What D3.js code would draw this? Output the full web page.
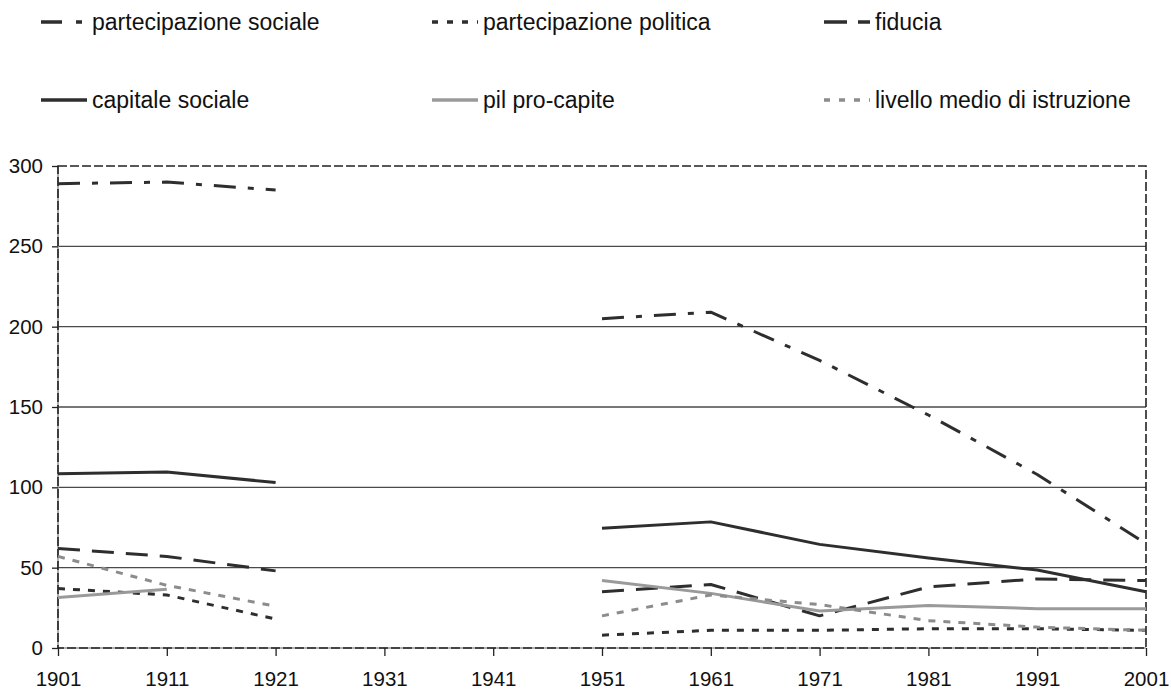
<!DOCTYPE html>
<html><head><meta charset="utf-8">
<script src="https://cdn.jsdelivr.net/npm/d3@7"></script>
<style>body{margin:0;background:#fff}svg{display:block;font-family:"Liberation Sans",Arial,sans-serif}</style>
</head><body>
<svg id="c" width="1171" height="692"></svg>
<script>
const years = ["1901","1911","1921","1931","1941","1951","1961","1971","1981","1991","2001"];
const yTicks = [0,50,100,150,200,250,300];
const partecipazioneSociale = [289,290,285,null,null,205,209,179,145,108,65];
const partecipazionePolitica = [37,33,18,null,null,8,11,11,12,12,11];
const fiducia = [62,57,48,null,null,35,39.5,20,38,43,42];
const capitaleSociale = [108.5,109.5,103,null,null,74.5,78.5,64.5,56,48.5,35];
const pilProCapite = [31.5,36.5,null,null,null,42,34,23,26.5,24.5,24.5];
const livelloIstruzione = [57,39,26,null,null,20,33,27,17,13,11];

const series = [
  {name:"partecipazione sociale", values:partecipazioneSociale, color:"#2e2e2e", dash:"22,12,6,12", legDash:"21,14,6,40"},
  {name:"partecipazione politica", values:partecipazionePolitica, color:"#2e2e2e", dash:"7,8", legDash:"6,9"},
  {name:"fiducia", values:fiducia, color:"#2e2e2e", dash:"22,12", legDash:"23,11"},
  {name:"capitale sociale", values:capitaleSociale, color:"#2e2e2e", dash:null, legDash:null},
  {name:"pil pro-capite", values:pilProCapite, color:"#9a9a9a", dash:null, legDash:null},
  {name:"livello medio di istruzione", values:livelloIstruzione, color:"#8c8c8c", dash:"7,8", legDash:"6,9"}
];

const svg = d3.select("#c");
const L=58, R=1146, T=166, B=648;
const x = d3.scalePoint().domain(years).range([L,R]);
const y = d3.scaleLinear().domain([0,300]).range([B,T]);

// gridlines
svg.append("g").selectAll("line").data(yTicks.filter(v=>v>0&&v<300)).join("line")
  .attr("x1",L).attr("x2",R).attr("y1",d=>y(d)).attr("y2",d=>y(d))
  .attr("stroke","#4a4a4a").attr("stroke-width",1.3);

// axis lines (gray) under dashed border
svg.append("line").attr("x1",L).attr("x2",L).attr("y1",T).attr("y2",B).attr("stroke","#999").attr("stroke-width",1.6);
svg.append("line").attr("x1",L).attr("x2",R).attr("y1",B).attr("y2",B).attr("stroke","#999").attr("stroke-width",1.6);
// dashed plot border
svg.append("rect").attr("x",L).attr("y",T).attr("width",R-L).attr("height",B-T)
  .attr("fill","none").attr("stroke","#222").attr("stroke-width",1.6).attr("stroke-dasharray","9,3");

// y axis
const yAxis = d3.axisLeft(y).tickValues(yTicks).tickSize(6).tickPadding(9);
const gy = svg.append("g").attr("transform",`translate(${L},0)`).call(yAxis);
gy.select(".domain").remove();
gy.selectAll(".tick line").attr("stroke","#222").attr("stroke-width",1.3);
gy.selectAll(".tick text").attr("font-size",20.5).attr("fill","#111").attr("font-family","Liberation Sans, Arial, sans-serif");

// x axis
const xAxis = d3.axisBottom(x).tickSize(8).tickPadding(15);
const gx = svg.append("g").attr("transform",`translate(0,${B})`).call(xAxis);
gx.select(".domain").remove();
gx.selectAll(".tick line").attr("stroke","#222").attr("stroke-width",1.3);
gx.selectAll(".tick text").attr("font-size",20.5).attr("fill","#111").attr("font-family","Liberation Sans, Arial, sans-serif");

// lines
const line = d3.line().defined(d=>d.v!=null).x(d=>x(d.k)).y(d=>y(d.v));
svg.append("g").selectAll("path").data(series).join("path")
  .attr("d",s=>line(s.values.map((v,i)=>({k:years[i],v}))))
  .attr("fill","none").attr("stroke",s=>s.color).attr("stroke-width",3)
  .attr("stroke-dasharray",s=>s.dash).attr("stroke-linejoin","round");

// legend
const colX=[41,432,824], rowY=[22,100];
const lg = svg.append("g").selectAll("g").data(series).join("g")
  .attr("transform",(s,i)=>`translate(${colX[i%3]},${rowY[Math.floor(i/3)]})`);
lg.append("line").attr("x1",0).attr("x2",46).attr("y1",0).attr("y2",0)
  .attr("stroke",s=>s.color).attr("stroke-width",3.5).attr("stroke-dasharray",s=>s.legDash);
lg.append("text").attr("x",51).attr("y",0).attr("dy","0.35em")
  .attr("font-size",23).attr("fill","#111").text(s=>s.name);
</script>
</body></html>
